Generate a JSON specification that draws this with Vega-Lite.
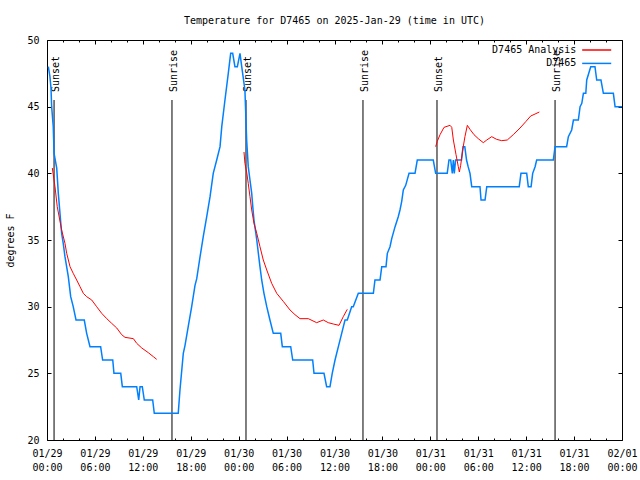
{
  "$schema": "https://vega.github.io/schema/vega-lite/v6.json",
  "width": 575,
  "height": 400,
  "autosize": {"type": "none"},
  "padding": {"left": 47, "top": 40, "right": 18, "bottom": 40},
  "background": "white",
  "title": {
    "text": "Temperature for D7465 on 2025-Jan-29 (time in UTC)",
    "font": "DejaVu Sans Mono",
    "fontSize": 10,
    "fontWeight": "normal",
    "color": "black",
    "anchor": "middle",
    "offset": 9
  },
  "config": {
    "view": {"stroke": "black", "strokeWidth": 1},
    "font": "DejaVu Sans Mono",
    "axis": {
      "grid": false,
      "domain": false,
      "tickColor": "black",
      "labelColor": "black",
      "labelFont": "DejaVu Sans Mono",
      "labelFontSize": 10,
      "titleFont": "DejaVu Sans Mono",
      "titleFontSize": 10,
      "titleFontWeight": "normal",
      "titleColor": "black",
      "labelFlush": false,
      "labelOverlap": false
    }
  },
  "datasets": {
    "sun": [
      {"t": "2025-01-29T00:53:00Z", "label": "Sunset"},
      {"t": "2025-01-29T15:39:00Z", "label": "Sunrise"},
      {"t": "2025-01-30T00:55:00Z", "label": "Sunset"},
      {"t": "2025-01-30T15:34:00Z", "label": "Sunrise"},
      {"t": "2025-01-31T00:50:00Z", "label": "Sunset"},
      {"t": "2025-01-31T15:37:00Z", "label": "Sunrise"}
    ],
    "obs": [
      {"t": "2025-01-29T00:10:00Z", "v": 48},
      {"t": "2025-01-29T00:22:00Z", "v": 47.25},
      {"t": "2025-01-29T00:30:00Z", "v": 46.4},
      {"t": "2025-01-29T00:35:00Z", "v": 45},
      {"t": "2025-01-29T00:47:00Z", "v": 43.5},
      {"t": "2025-01-29T00:53:00Z", "v": 41.5},
      {"t": "2025-01-29T01:13:00Z", "v": 40.4},
      {"t": "2025-01-29T01:25:00Z", "v": 38.5},
      {"t": "2025-01-29T01:50:00Z", "v": 35.5},
      {"t": "2025-01-29T02:02:00Z", "v": 34.75},
      {"t": "2025-01-29T02:15:00Z", "v": 33.75},
      {"t": "2025-01-29T02:40:00Z", "v": 32.25},
      {"t": "2025-01-29T02:58:00Z", "v": 30.75},
      {"t": "2025-01-29T03:17:00Z", "v": 30},
      {"t": "2025-01-29T03:38:00Z", "v": 29},
      {"t": "2025-01-29T04:40:00Z", "v": 29},
      {"t": "2025-01-29T04:58:00Z", "v": 28},
      {"t": "2025-01-29T05:23:00Z", "v": 27},
      {"t": "2025-01-29T06:43:00Z", "v": 27},
      {"t": "2025-01-29T06:58:00Z", "v": 26},
      {"t": "2025-01-29T08:14:00Z", "v": 26},
      {"t": "2025-01-29T08:23:00Z", "v": 25},
      {"t": "2025-01-29T09:14:00Z", "v": 25},
      {"t": "2025-01-29T09:26:00Z", "v": 24},
      {"t": "2025-01-29T11:14:00Z", "v": 24},
      {"t": "2025-01-29T11:29:00Z", "v": 23},
      {"t": "2025-01-29T11:39:00Z", "v": 24},
      {"t": "2025-01-29T11:56:00Z", "v": 24},
      {"t": "2025-01-29T12:11:00Z", "v": 23},
      {"t": "2025-01-29T13:14:00Z", "v": 23},
      {"t": "2025-01-29T13:26:00Z", "v": 22},
      {"t": "2025-01-29T16:26:00Z", "v": 22},
      {"t": "2025-01-29T16:39:00Z", "v": 23.75},
      {"t": "2025-01-29T17:04:00Z", "v": 26.5},
      {"t": "2025-01-29T17:17:00Z", "v": 27.1},
      {"t": "2025-01-29T17:41:00Z", "v": 28.5},
      {"t": "2025-01-29T18:07:00Z", "v": 30},
      {"t": "2025-01-29T18:32:00Z", "v": 31.6},
      {"t": "2025-01-29T18:45:00Z", "v": 32.1},
      {"t": "2025-01-29T19:10:00Z", "v": 33.75},
      {"t": "2025-01-29T19:34:00Z", "v": 35.25},
      {"t": "2025-01-29T20:00:00Z", "v": 36.75},
      {"t": "2025-01-29T20:25:00Z", "v": 38.25},
      {"t": "2025-01-29T20:49:00Z", "v": 40},
      {"t": "2025-01-29T21:15:00Z", "v": 41},
      {"t": "2025-01-29T21:40:00Z", "v": 42},
      {"t": "2025-01-29T21:53:00Z", "v": 43.5},
      {"t": "2025-01-29T22:17:00Z", "v": 45.5},
      {"t": "2025-01-29T22:42:00Z", "v": 47.5},
      {"t": "2025-01-29T23:00:00Z", "v": 49},
      {"t": "2025-01-29T23:15:00Z", "v": 49},
      {"t": "2025-01-29T23:32:00Z", "v": 48},
      {"t": "2025-01-29T23:50:00Z", "v": 48},
      {"t": "2025-01-30T00:10:00Z", "v": 49},
      {"t": "2025-01-30T00:23:00Z", "v": 48},
      {"t": "2025-01-30T00:47:00Z", "v": 46.25},
      {"t": "2025-01-30T01:00:00Z", "v": 42.5},
      {"t": "2025-01-30T01:12:00Z", "v": 40.5},
      {"t": "2025-01-30T01:25:00Z", "v": 39.5},
      {"t": "2025-01-30T01:38:00Z", "v": 38.5},
      {"t": "2025-01-30T01:46:00Z", "v": 37.5},
      {"t": "2025-01-30T01:55:00Z", "v": 36.5},
      {"t": "2025-01-30T02:16:00Z", "v": 35},
      {"t": "2025-01-30T02:28:00Z", "v": 34},
      {"t": "2025-01-30T02:40:00Z", "v": 33},
      {"t": "2025-01-30T02:53:00Z", "v": 32},
      {"t": "2025-01-30T03:10:00Z", "v": 31},
      {"t": "2025-01-30T03:31:00Z", "v": 30},
      {"t": "2025-01-30T03:55:00Z", "v": 29},
      {"t": "2025-01-30T04:20:00Z", "v": 28},
      {"t": "2025-01-30T05:16:00Z", "v": 28},
      {"t": "2025-01-30T05:28:00Z", "v": 27},
      {"t": "2025-01-30T06:31:00Z", "v": 27},
      {"t": "2025-01-30T06:46:00Z", "v": 26},
      {"t": "2025-01-30T09:16:00Z", "v": 26},
      {"t": "2025-01-30T09:26:00Z", "v": 25},
      {"t": "2025-01-30T10:41:00Z", "v": 25},
      {"t": "2025-01-30T11:01:00Z", "v": 24},
      {"t": "2025-01-30T11:26:00Z", "v": 24},
      {"t": "2025-01-30T11:43:00Z", "v": 25},
      {"t": "2025-01-30T12:04:00Z", "v": 26},
      {"t": "2025-01-30T12:29:00Z", "v": 27},
      {"t": "2025-01-30T12:54:00Z", "v": 28},
      {"t": "2025-01-30T13:19:00Z", "v": 29},
      {"t": "2025-01-30T13:36:00Z", "v": 29},
      {"t": "2025-01-30T14:09:00Z", "v": 30},
      {"t": "2025-01-30T14:21:00Z", "v": 30},
      {"t": "2025-01-30T14:59:00Z", "v": 31},
      {"t": "2025-01-30T16:52:00Z", "v": 31},
      {"t": "2025-01-30T17:04:00Z", "v": 32},
      {"t": "2025-01-30T17:42:00Z", "v": 32},
      {"t": "2025-01-30T17:55:00Z", "v": 33},
      {"t": "2025-01-30T18:27:00Z", "v": 33},
      {"t": "2025-01-30T18:37:00Z", "v": 34},
      {"t": "2025-01-30T18:57:00Z", "v": 34.5},
      {"t": "2025-01-30T19:10:00Z", "v": 35.1},
      {"t": "2025-01-30T19:35:00Z", "v": 36},
      {"t": "2025-01-30T19:59:00Z", "v": 36.75},
      {"t": "2025-01-30T20:12:00Z", "v": 37.25},
      {"t": "2025-01-30T20:25:00Z", "v": 37.9},
      {"t": "2025-01-30T20:37:00Z", "v": 38.75},
      {"t": "2025-01-30T20:55:00Z", "v": 39.1},
      {"t": "2025-01-30T21:20:00Z", "v": 40},
      {"t": "2025-01-30T22:05:00Z", "v": 40},
      {"t": "2025-01-30T22:22:00Z", "v": 41},
      {"t": "2025-01-31T00:22:00Z", "v": 41},
      {"t": "2025-01-31T00:40:00Z", "v": 40},
      {"t": "2025-01-31T02:07:00Z", "v": 40},
      {"t": "2025-01-31T02:20:00Z", "v": 41},
      {"t": "2025-01-31T02:33:00Z", "v": 41},
      {"t": "2025-01-31T02:45:00Z", "v": 40},
      {"t": "2025-01-31T02:53:00Z", "v": 41},
      {"t": "2025-01-31T03:00:00Z", "v": 40},
      {"t": "2025-01-31T03:10:00Z", "v": 41},
      {"t": "2025-01-31T03:54:00Z", "v": 41},
      {"t": "2025-01-31T04:06:00Z", "v": 42},
      {"t": "2025-01-31T04:19:00Z", "v": 42},
      {"t": "2025-01-31T04:32:00Z", "v": 41},
      {"t": "2025-01-31T04:44:00Z", "v": 40.5},
      {"t": "2025-01-31T04:58:00Z", "v": 40},
      {"t": "2025-01-31T05:11:00Z", "v": 39},
      {"t": "2025-01-31T06:13:00Z", "v": 39},
      {"t": "2025-01-31T06:21:00Z", "v": 38},
      {"t": "2025-01-31T06:51:00Z", "v": 38},
      {"t": "2025-01-31T07:04:00Z", "v": 39},
      {"t": "2025-01-31T11:08:00Z", "v": 39},
      {"t": "2025-01-31T11:21:00Z", "v": 40},
      {"t": "2025-01-31T12:04:00Z", "v": 40},
      {"t": "2025-01-31T12:16:00Z", "v": 39},
      {"t": "2025-01-31T12:37:00Z", "v": 39},
      {"t": "2025-01-31T12:49:00Z", "v": 40},
      {"t": "2025-01-31T13:07:00Z", "v": 40.5},
      {"t": "2025-01-31T13:19:00Z", "v": 41},
      {"t": "2025-01-31T15:24:00Z", "v": 41},
      {"t": "2025-01-31T15:37:00Z", "v": 42},
      {"t": "2025-01-31T17:04:00Z", "v": 42},
      {"t": "2025-01-31T17:17:00Z", "v": 42.75},
      {"t": "2025-01-31T17:42:00Z", "v": 43.25},
      {"t": "2025-01-31T17:55:00Z", "v": 44},
      {"t": "2025-01-31T18:32:00Z", "v": 44},
      {"t": "2025-01-31T18:45:00Z", "v": 45},
      {"t": "2025-01-31T18:58:00Z", "v": 45.25},
      {"t": "2025-01-31T19:10:00Z", "v": 46},
      {"t": "2025-01-31T19:28:00Z", "v": 46},
      {"t": "2025-01-31T19:35:00Z", "v": 47},
      {"t": "2025-01-31T20:05:00Z", "v": 48},
      {"t": "2025-01-31T20:37:00Z", "v": 48},
      {"t": "2025-01-31T20:50:00Z", "v": 47},
      {"t": "2025-01-31T21:22:00Z", "v": 47},
      {"t": "2025-01-31T21:40:00Z", "v": 46},
      {"t": "2025-01-31T22:55:00Z", "v": 46},
      {"t": "2025-01-31T23:08:00Z", "v": 45},
      {"t": "2025-02-01T00:00:00Z", "v": 45}
    ],
    "ana": [
      {"seg": 1, "t": "2025-01-29T00:40:00Z", "v": 40.4},
      {"seg": 1, "t": "2025-01-29T01:00:00Z", "v": 39},
      {"seg": 1, "t": "2025-01-29T01:17:00Z", "v": 37.5},
      {"seg": 1, "t": "2025-01-29T01:50:00Z", "v": 35.75},
      {"seg": 1, "t": "2025-01-29T02:15:00Z", "v": 34.75},
      {"seg": 1, "t": "2025-01-29T02:28:00Z", "v": 34},
      {"seg": 1, "t": "2025-01-29T02:53:00Z", "v": 33},
      {"seg": 1, "t": "2025-01-29T03:17:00Z", "v": 32.5},
      {"seg": 1, "t": "2025-01-29T03:43:00Z", "v": 32},
      {"seg": 1, "t": "2025-01-29T04:08:00Z", "v": 31.5},
      {"seg": 1, "t": "2025-01-29T04:33:00Z", "v": 31},
      {"seg": 1, "t": "2025-01-29T04:58:00Z", "v": 30.75},
      {"seg": 1, "t": "2025-01-29T05:36:00Z", "v": 30.5},
      {"seg": 1, "t": "2025-01-29T06:13:00Z", "v": 30},
      {"seg": 1, "t": "2025-01-29T06:51:00Z", "v": 29.5},
      {"seg": 1, "t": "2025-01-29T07:29:00Z", "v": 29.1},
      {"seg": 1, "t": "2025-01-29T08:06:00Z", "v": 28.75},
      {"seg": 1, "t": "2025-01-29T08:44:00Z", "v": 28.4},
      {"seg": 1, "t": "2025-01-29T09:21:00Z", "v": 27.9},
      {"seg": 1, "t": "2025-01-29T09:46:00Z", "v": 27.7},
      {"seg": 1, "t": "2025-01-29T10:49:00Z", "v": 27.6},
      {"seg": 1, "t": "2025-01-29T11:14:00Z", "v": 27.25},
      {"seg": 1, "t": "2025-01-29T11:52:00Z", "v": 26.9},
      {"seg": 1, "t": "2025-01-29T12:41:00Z", "v": 26.55},
      {"seg": 1, "t": "2025-01-29T13:19:00Z", "v": 26.25},
      {"seg": 1, "t": "2025-01-29T13:44:00Z", "v": 26.05},
      {"seg": 2, "t": "2025-01-30T00:40:00Z", "v": 41.6},
      {"seg": 2, "t": "2025-01-30T00:47:00Z", "v": 40.75},
      {"seg": 2, "t": "2025-01-30T01:00:00Z", "v": 40.1},
      {"seg": 2, "t": "2025-01-30T01:12:00Z", "v": 39.25},
      {"seg": 2, "t": "2025-01-30T01:25:00Z", "v": 38.25},
      {"seg": 2, "t": "2025-01-30T01:38:00Z", "v": 37.25},
      {"seg": 2, "t": "2025-01-30T01:55:00Z", "v": 36.25},
      {"seg": 2, "t": "2025-01-30T02:16:00Z", "v": 35.5},
      {"seg": 2, "t": "2025-01-30T02:40:00Z", "v": 34.5},
      {"seg": 2, "t": "2025-01-30T03:05:00Z", "v": 33.5},
      {"seg": 2, "t": "2025-01-30T03:31:00Z", "v": 32.75},
      {"seg": 2, "t": "2025-01-30T04:08:00Z", "v": 31.75},
      {"seg": 2, "t": "2025-01-30T04:46:00Z", "v": 31},
      {"seg": 2, "t": "2025-01-30T05:35:00Z", "v": 30.4},
      {"seg": 2, "t": "2025-01-30T06:26:00Z", "v": 29.75},
      {"seg": 2, "t": "2025-01-30T07:03:00Z", "v": 29.4},
      {"seg": 2, "t": "2025-01-30T07:41:00Z", "v": 29.1},
      {"seg": 2, "t": "2025-01-30T08:43:00Z", "v": 29.1},
      {"seg": 2, "t": "2025-01-30T09:46:00Z", "v": 28.8},
      {"seg": 2, "t": "2025-01-30T10:36:00Z", "v": 29},
      {"seg": 2, "t": "2025-01-30T11:13:00Z", "v": 28.8},
      {"seg": 2, "t": "2025-01-30T11:51:00Z", "v": 28.7},
      {"seg": 2, "t": "2025-01-30T12:34:00Z", "v": 28.6},
      {"seg": 2, "t": "2025-01-30T13:06:00Z", "v": 29.25},
      {"seg": 2, "t": "2025-01-30T13:36:00Z", "v": 29.8},
      {"seg": 3, "t": "2025-01-31T00:40:00Z", "v": 42},
      {"seg": 3, "t": "2025-01-31T00:52:00Z", "v": 42.4},
      {"seg": 3, "t": "2025-01-31T01:13:00Z", "v": 42.9},
      {"seg": 3, "t": "2025-01-31T01:43:00Z", "v": 43.45},
      {"seg": 3, "t": "2025-01-31T02:28:00Z", "v": 43.6},
      {"seg": 3, "t": "2025-01-31T02:41:00Z", "v": 43.45},
      {"seg": 3, "t": "2025-01-31T02:53:00Z", "v": 42.5},
      {"seg": 3, "t": "2025-01-31T03:13:00Z", "v": 41.4},
      {"seg": 3, "t": "2025-01-31T03:30:00Z", "v": 40.5},
      {"seg": 3, "t": "2025-01-31T03:38:00Z", "v": 40.1},
      {"seg": 3, "t": "2025-01-31T03:48:00Z", "v": 40.6},
      {"seg": 3, "t": "2025-01-31T04:03:00Z", "v": 41.75},
      {"seg": 3, "t": "2025-01-31T04:20:00Z", "v": 42.75},
      {"seg": 3, "t": "2025-01-31T04:38:00Z", "v": 43.6},
      {"seg": 3, "t": "2025-01-31T04:58:00Z", "v": 43.3},
      {"seg": 3, "t": "2025-01-31T05:28:00Z", "v": 42.9},
      {"seg": 3, "t": "2025-01-31T06:00:00Z", "v": 42.6},
      {"seg": 3, "t": "2025-01-31T06:38:00Z", "v": 42.3},
      {"seg": 3, "t": "2025-01-31T07:04:00Z", "v": 42.5},
      {"seg": 3, "t": "2025-01-31T07:41:00Z", "v": 42.75},
      {"seg": 3, "t": "2025-01-31T08:18:00Z", "v": 42.55},
      {"seg": 3, "t": "2025-01-31T08:56:00Z", "v": 42.45},
      {"seg": 3, "t": "2025-01-31T09:38:00Z", "v": 42.5},
      {"seg": 3, "t": "2025-01-31T10:23:00Z", "v": 42.9},
      {"seg": 3, "t": "2025-01-31T11:14:00Z", "v": 43.4},
      {"seg": 3, "t": "2025-01-31T11:59:00Z", "v": 43.9},
      {"seg": 3, "t": "2025-01-31T12:34:00Z", "v": 44.3},
      {"seg": 3, "t": "2025-01-31T13:07:00Z", "v": 44.45},
      {"seg": 3, "t": "2025-01-31T13:39:00Z", "v": 44.6}
    ]
  },
  "layer": [
    {
      "data": {"name": "sun"},
      "mark": {"type": "rule", "color": "black", "strokeWidth": 1},
      "encoding": {
        "x": {"field": "t", "type": "temporal", "scale": {"type": "utc", "domain": [1738108800000, 1738368000000]}, "axis": null},
        "y": {"datum": 45.5, "type": "quantitative", "scale": {"domain": [20, 50]}, "axis": null},
        "y2": {"datum": 20}
      }
    },
    {
      "data": {"name": "sun"},
      "mark": {"type": "text", "angle": 270, "align": "left", "baseline": "alphabetic", "dy": 5, "font": "DejaVu Sans Mono", "fontSize": 10, "color": "black"},
      "encoding": {
        "x": {"field": "t", "type": "temporal", "axis": null},
        "y": {"datum": 46.1, "type": "quantitative", "axis": null},
        "text": {"field": "label"}
      }
    },
    {
      "data": {"name": "obs"},
      "mark": {"type": "line", "strokeWidth": 1.5, "interpolate": "linear"},
      "encoding": {
        "x": {
          "field": "t",
          "type": "temporal",
          "axis": {
            "orient": "bottom",
            "title": null,
            "values": [1738108800000,1738116000000,1738123200000,1738130400000,1738137600000,1738144800000,1738152000000,1738159200000,1738166400000,1738173600000,1738180800000,1738188000000,1738195200000,1738202400000,1738209600000,1738216800000,1738224000000,1738231200000,1738238400000,1738245600000,1738252800000,1738260000000,1738267200000,1738274400000,1738281600000,1738288800000,1738296000000,1738303200000,1738310400000,1738317600000,1738324800000,1738332000000,1738339200000,1738346400000,1738353600000,1738360800000,1738368000000],
            "labelExpr": "utchours(datum.value) % 6 === 0 ? [utcFormat(datum.value, '%m/%d'), utcFormat(datum.value, '%H:%M')] : ''",
            "tickSize": {"condition": {"test": "utchours(datum.value) % 6 === 0", "value": -4}, "value": -2},
            "labelPadding": 12,
            "labelLineHeight": 14,
            "labelBaseline": "top"
          }
        },
        "y": {
          "field": "v",
          "type": "quantitative",
          "axis": {
            "orient": "left",
            "title": "degrees F",
            "values": [20, 25, 30, 35, 40, 45, 50],
            "tickSize": -4,
            "labelPadding": 12,
            "titlePadding": 11
          }
        },
        "color": {
          "datum": "D7465",
          "scale": {"domain": ["D7465 Analysis", "D7465"], "range": ["#ff0000", "#0080ff"]},
          "legend": {
            "orient": "none",
            "legendX": 542.7,
            "legendY": 3,
            "title": null,
            "symbolType": "M-2.5,0H2.5",
            "symbolSize": 135,
            "symbolStrokeWidth": 1.5,
            "labelAlign": "right",
            "labelOffset": -27.3,
            "labelFont": "DejaVu Sans Mono",
            "labelFontSize": 10,
            "labelColor": "black",
            "padding": 0,
            "rowPadding": 1.4
          }
        }
      }
    },
    {
      "data": {"name": "ana"},
      "mark": {"type": "line", "strokeWidth": 1},
      "encoding": {
        "x": {
          "field": "t",
          "type": "temporal",
          "axis": {
            "orient": "top",
            "title": null,
            "labels": false,
            "values": [1738108800000,1738116000000,1738123200000,1738130400000,1738137600000,1738144800000,1738152000000,1738159200000,1738166400000,1738173600000,1738180800000,1738188000000,1738195200000,1738202400000,1738209600000,1738216800000,1738224000000,1738231200000,1738238400000,1738245600000,1738252800000,1738260000000,1738267200000,1738274400000,1738281600000,1738288800000,1738296000000,1738303200000,1738310400000,1738317600000,1738324800000,1738332000000,1738339200000,1738346400000,1738353600000,1738360800000,1738368000000],
            "tickSize": {"condition": {"test": "utchours(datum.value) % 6 === 0", "value": -4}, "value": -2}
          }
        },
        "y": {
          "field": "v",
          "type": "quantitative",
          "axis": {"orient": "right", "title": null, "labels": false, "values": [20, 25, 30, 35, 40, 45, 50], "tickSize": -4}
        },
        "detail": {"field": "seg"},
        "color": {"datum": "D7465 Analysis"}
      }
    }
  ],
  "resolve": {"axis": {"x": "independent", "y": "independent"}}
}
